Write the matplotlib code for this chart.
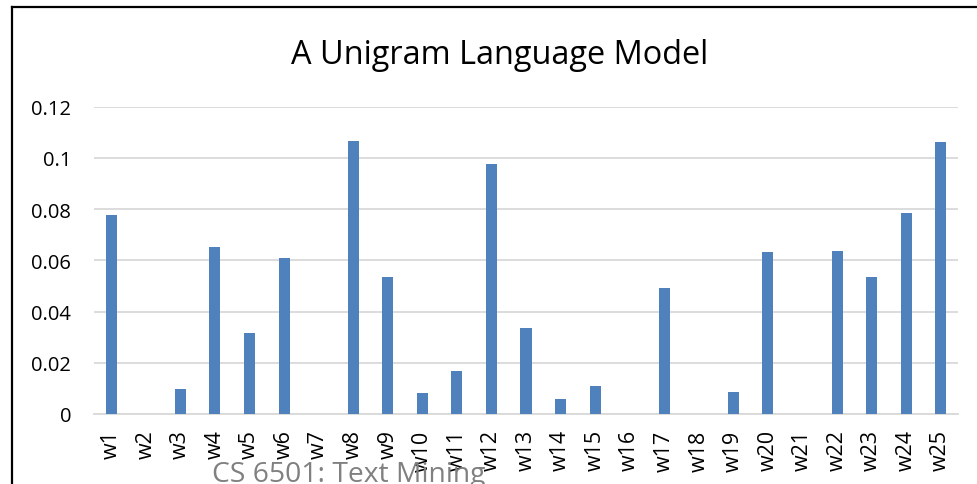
import numpy as np
import matplotlib.pyplot as plt
from matplotlib.lines import Line2D

plt.rcParams['font.family'] = ['Open Sans', 'DejaVu Sans']

words = ['w%d' % i for i in range(1, 26)]
probs = [0.0777, 0.0, 0.0097, 0.0652, 0.0316, 0.0609, 0.0, 0.1066, 0.0535, 0.0081,
         0.0169, 0.0977, 0.0336, 0.0059, 0.0109, 0.0, 0.0493, 0.0, 0.0085, 0.0632,
         0.0, 0.0635, 0.0534, 0.0786, 0.1063]
yticks = [0, 0.02, 0.04, 0.06, 0.08, 0.1, 0.12]
ytick_labels = ['0', '0.02', '0.04', '0.06', '0.08', '0.1', '0.12']

fig = plt.figure(figsize=(9.78, 4.85), dpi=100)
ax = fig.add_axes([94 / 978, 70 / 485, 864 / 978, 307.3 / 485])

x = np.arange(len(words))
ax.bar(x, probs, width=0.32, color='#4F81BD', zorder=3)
ax.set_xlim(-0.5, len(words) - 0.5)
ax.set_ylim(0, 0.12)
ax.set_yticks(yticks)
ax.set_yticklabels(ytick_labels, fontsize=14.5)
ax.set_xticks(x)
ax.set_xticklabels(words, rotation=90, fontsize=15.5)
ax.tick_params(axis='both', length=0)
ax.tick_params(axis='y', pad=16.5)
ax.tick_params(axis='x', pad=11)
ax.grid(axis='y', color='#D9D9D9', linewidth=1.3, zorder=0)
for s in ['top', 'right', 'left']:
    ax.spines[s].set_visible(False)
ax.spines['bottom'].set_color('#D9D9D9')
ax.spines['bottom'].set_linewidth(1.3)

fig.text(500 / 978, 1 - 55 / 485, 'A Unigram Language Model', fontsize=23.4,
         ha='center', va='center')
fig.text(212 / 978, 3 / 485, 'CS 6501: Text Mining', fontsize=20.3,
         color='#808080', ha='left', va='baseline')

# chart border (left and top edges visible)
fig.add_artist(Line2D([12 / 978, 12 / 978], [0, 1 - 8 / 485], color='black', linewidth=1.6))
fig.add_artist(Line2D([12 / 978, 1], [1 - 8 / 485, 1 - 8 / 485], color='black', linewidth=1.6))

fig.savefig('out.png', dpi=100)
